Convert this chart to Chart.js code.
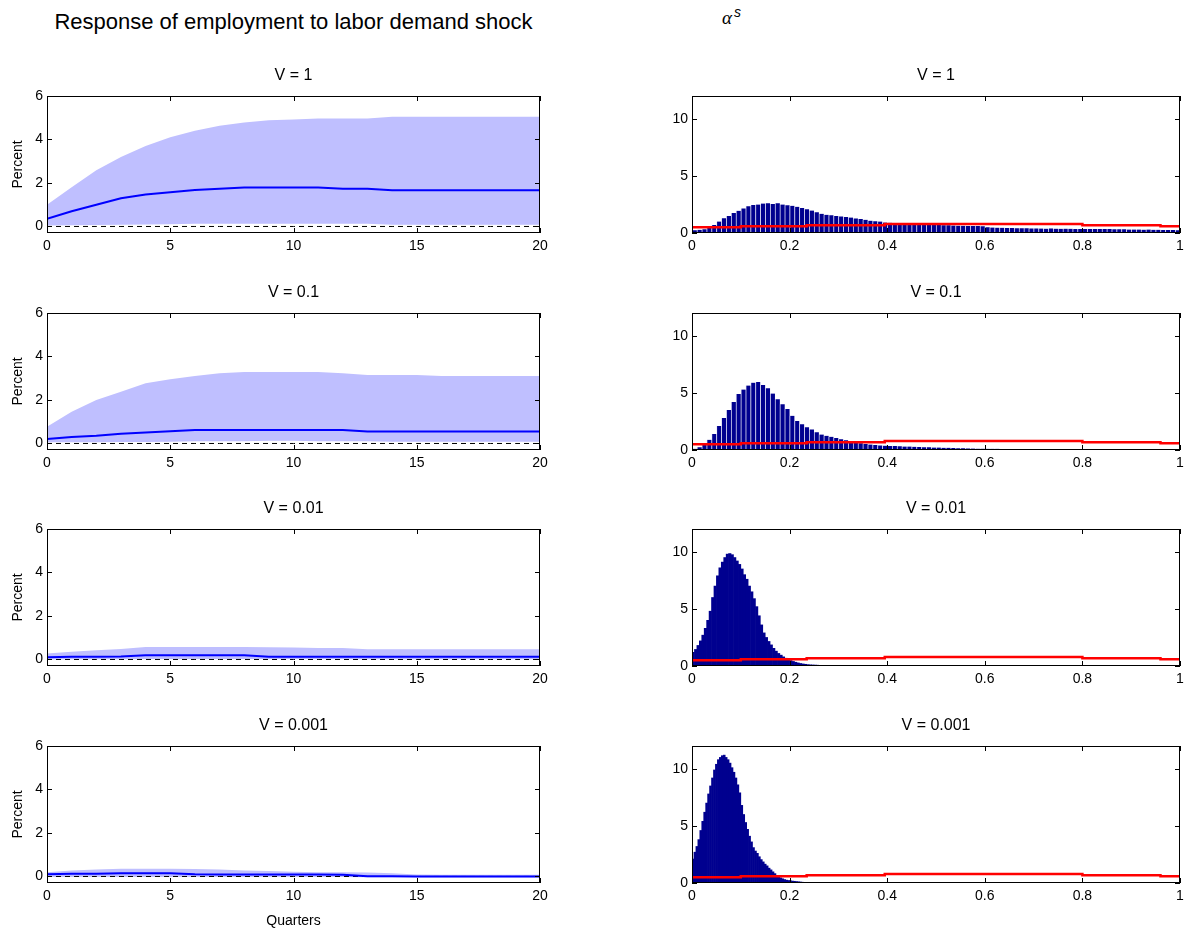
<!DOCTYPE html>
<html>
<head>
<meta charset="utf-8">
<script src="https://cdn.jsdelivr.net/npm/chart.js@4.4.1/dist/chart.umd.min.js"></script>
<style>
  body { margin: 0; background: #fff; }
  #page { position: relative; width: 1192px; height: 933px; font-family: "Liberation Sans", Arial, sans-serif; color: #000; }
  .panel { position: absolute; }
  .heading { position: absolute; white-space: nowrap; }
  #leftHeading { left: 47px; width: 493px; top: 9px; text-align: center; font-size: 22px; }
  #rightHeading { left: 722px; top: 4px; font-size: 18px; }
  #rightHeading i { font-family: "Liberation Serif", serif; font-size: 19px; }
  #rightHeading sup { font-style: italic; font-size: 14px; margin-left: 2px; }
</style>
</head>
<body>
<div id="page">
  <div class="heading" id="leftHeading">Response of employment to labor demand shock</div>
  <div class="heading" id="rightHeading"><i>α</i><sup>s</sup></div>
</div>
<script>
// ---- data ----
const quarters = [0, 1, 2, 3, 4, 5, 6, 7, 8, 9, 10, 11, 12, 13, 14, 15, 16, 17, 18, 19, 20];
const panelTitles = ['V = 1', 'V = 0.1', 'V = 0.01', 'V = 0.001'];

// response of employment: median and band, one set per V
const medV1 = [0.35, 0.7, 1.0, 1.3, 1.47, 1.57, 1.68, 1.74, 1.79, 1.79, 1.79, 1.79, 1.73, 1.73, 1.67, 1.67, 1.67, 1.67, 1.67, 1.67, 1.67];
const upV1  = [1.0, 1.8, 2.58, 3.2, 3.7, 4.1, 4.4, 4.63, 4.78, 4.88, 4.92, 4.97, 4.97, 4.97, 5.05, 5.05, 5.05, 5.05, 5.05, 5.05, 5.05];
const loV1  = [0.05, 0.06, 0.07, 0.08, 0.09, 0.1, 0.13, 0.13, 0.13, 0.13, 0.13, 0.13, 0.13, 0.12, 0.08, 0.08, 0.08, 0.08, 0.08, 0.08, 0.08];

const medV01 = [0.2, 0.3, 0.36, 0.45, 0.5, 0.56, 0.62, 0.62, 0.62, 0.62, 0.62, 0.62, 0.62, 0.55, 0.55, 0.55, 0.55, 0.55, 0.55, 0.55, 0.55];
const upV01  = [0.77, 1.46, 2.0, 2.38, 2.77, 2.95, 3.1, 3.23, 3.29, 3.29, 3.29, 3.29, 3.23, 3.15, 3.15, 3.15, 3.1, 3.1, 3.1, 3.1, 3.1];
const loV01  = [0.06, 0.06, 0.06, 0.07, 0.07, 0.08, 0.1, 0.1, 0.1, 0.12, 0.12, 0.1, 0.1, 0.1, 0.08, 0.08, 0.08, 0.08, 0.08, 0.08, 0.08];

const medV001 = [0.1, 0.12, 0.13, 0.14, 0.2, 0.2, 0.2, 0.2, 0.2, 0.13, 0.13, 0.13, 0.13, 0.13, 0.13, 0.13, 0.13, 0.13, 0.13, 0.13, 0.13];
const upV001  = [0.27, 0.35, 0.42, 0.48, 0.57, 0.57, 0.57, 0.57, 0.57, 0.56, 0.55, 0.53, 0.53, 0.47, 0.47, 0.47, 0.47, 0.47, 0.47, 0.47, 0.47];
const loV001  = [0.0, 0.01, 0.01, 0.01, 0.02, 0.02, 0.02, 0.02, 0.02, 0.02, 0.02, 0.02, 0.02, 0.01, 0.01, 0.01, 0.01, 0.01, 0.01, 0.01, 0.01];

const medV0001 = [0.1, 0.12, 0.13, 0.15, 0.15, 0.15, 0.1, 0.09, 0.09, 0.09, 0.09, 0.09, 0.08, 0.01, 0.01, 0.0, 0.0, 0.0, 0.0, 0.0, 0.0];
const upV0001  = [0.2, 0.28, 0.32, 0.35, 0.35, 0.35, 0.34, 0.32, 0.28, 0.25, 0.22, 0.2, 0.2, 0.18, 0.15, 0.09, 0.08, 0.08, 0.08, 0.08, 0.08];
const loV0001  = [-0.02, -0.02, -0.02, -0.02, -0.02, -0.02, -0.02, -0.02, -0.02, -0.02, -0.02, -0.02, -0.02, -0.03, -0.03, -0.03, -0.03, -0.03, -0.03, -0.03, -0.03];

// posterior of alpha^s: histogram densities, bins start at 0
const binWidthV1 = 0.01;
const densV1 = [
  0.25, 0.28, 0.32, 0.45, 0.7, 1.0, 1.3, 1.5, 1.75, 1.95,
  2.15, 2.35, 2.45, 2.5, 2.58, 2.6, 2.55, 2.6, 2.5, 2.42,
  2.38, 2.3, 2.18, 2.08, 1.96, 1.82, 1.68, 1.6, 1.55, 1.5,
  1.45, 1.4, 1.35, 1.28, 1.22, 1.15, 1.08, 1.04, 1.0, 0.92,
  0.9, 0.88, 0.86, 0.84, 0.82, 0.8, 0.78, 0.76, 0.74, 0.73,
  0.7, 0.68, 0.67, 0.66, 0.64, 0.63, 0.62, 0.62, 0.61, 0.6,
  0.5, 0.48, 0.47, 0.46, 0.44, 0.43, 0.42, 0.42, 0.41, 0.4,
  0.4, 0.39, 0.38, 0.4, 0.38, 0.37, 0.38, 0.37, 0.36, 0.36,
  0.36, 0.35, 0.35, 0.34, 0.35, 0.34, 0.33, 0.32, 0.32, 0.31,
  0.3, 0.3, 0.29, 0.3, 0.28, 0.28, 0.27, 0.27, 0.26, 0.25
];
const binWidthV01 = 0.01;
const densV01 = [
  0.1, 0.25, 0.5, 0.9, 1.4, 2.1, 2.8, 3.5, 4.2, 4.9,
  5.3, 5.65, 5.9, 5.95, 5.7, 5.4, 4.95, 4.45, 4.0, 3.6,
  3.0, 2.55, 2.25, 2.0, 1.8, 1.55, 1.35, 1.25, 1.15, 1.05,
  0.95, 0.85, 0.75, 0.68, 0.6, 0.53, 0.48, 0.43, 0.4, 0.38,
  0.36, 0.35, 0.33, 0.31, 0.3, 0.28, 0.27, 0.25, 0.24, 0.22,
  0.21, 0.2, 0.19, 0.18, 0.16, 0.15, 0.14, 0.13, 0.12, 0.12,
  0.11, 0.1, 0.1, 0.09, 0.09, 0.08, 0.08, 0.08, 0.07, 0.07,
  0.07, 0.06, 0.06, 0.06, 0.06, 0.05, 0.05, 0.05, 0.05, 0.05,
  0.04, 0.04, 0.04, 0.04, 0.04, 0.04, 0.03, 0.03, 0.03, 0.03,
  0.03, 0.03, 0.03, 0.03, 0.02, 0.02, 0.02, 0.02, 0.02, 0.02
];
const binWidthV001 = 0.005;
const densV001 = [
  1.2, 1.45, 1.8, 2.2, 2.7, 3.3, 4.0, 4.8, 6.0, 7.0,
  7.9, 8.6, 9.1, 9.5, 9.8, 9.85, 9.75, 9.5, 9.2, 8.9,
  8.5, 8.0, 7.6, 7.0, 6.5, 5.9, 5.2, 4.4, 3.6, 2.9,
  2.5, 2.15, 1.85, 1.55, 1.3, 1.1, 0.95, 0.8, 0.68, 0.58,
  0.48, 0.4, 0.33, 0.27, 0.22, 0.18, 0.15, 0.12, 0.1, 0.09,
  0.08, 0.07, 0.06, 0.06, 0.05, 0.05, 0.04, 0.04, 0.04, 0.03,
  0.03, 0.03, 0.03, 0.02, 0.02, 0.02, 0.02, 0.02, 0.02, 0.02,
  0.02, 0.01, 0.01, 0.01, 0.01, 0.01, 0.01, 0.01, 0.01, 0.01
];
const binWidthV0001 = 0.004;
const densV0001 = [
  2.1, 2.7, 3.2, 3.8, 4.6, 5.4, 6.2, 7.0, 7.8, 8.5,
  9.2, 9.9, 10.4, 10.8, 11.0, 11.15, 11.2, 11.0, 10.8, 10.5,
  10.1, 9.7, 9.2, 8.6, 7.9, 6.8, 6.0, 5.3, 4.7, 4.1,
  3.6, 3.1, 2.8, 2.6, 2.3, 2.05, 1.85, 1.65, 1.5, 1.3,
  1.15, 0.98, 0.82, 0.66, 0.54, 0.45, 0.37, 0.3, 0.25, 0.22,
  0.19, 0.17, 0.15, 0.13, 0.11, 0.09, 0.07, 0.05
];

// prior density (red step line), same in every panel; each value holds until the next x
const priorX = [0, 0.1, 0.235, 0.395, 0.8, 0.96, 1];
const priorY = [0.5, 0.59, 0.67, 0.79, 0.67, 0.59, 0.59];

// axis ticks
const irfXTicks = [0, 5, 10, 15, 20];
const irfYTicks = [0, 2, 4, 6];
const histXTicks = [0, 0.2, 0.4, 0.6, 0.8, 1];
const histYTicks = [0, 5, 10];

// ---- layout ----
Chart.defaults.font.family = '"Liberation Sans", Arial, sans-serif';
Chart.defaults.font.size = 14;
Chart.defaults.color = '#000';

const rowTops = [96, 313, 529, 746];
const boxH = 137;
const titleH = 32;
const leftBox = { x: 47, w: 493, yW: 47 };
const rightBox = { x: 692, w: 488, yW: 45 };
const padR = 14;

// box with inward ticks on all four sides, like the original figure
const frame = {
  id: 'frame',
  afterDatasetsDraw(chart) {
    const { ctx, chartArea: a, scales: { x, y } } = chart;
    const len = 5;
    ctx.save();
    ctx.strokeStyle = '#000';
    ctx.lineWidth = 1;
    ctx.strokeRect(a.left + 0.5, a.top + 0.5, a.width - 1, a.height - 1);
    ctx.beginPath();
    x.ticks.forEach(t => {
      const px = Math.round(x.getPixelForValue(t.value)) + 0.5;
      ctx.moveTo(px, a.bottom); ctx.lineTo(px, a.bottom - len);
      ctx.moveTo(px, a.top); ctx.lineTo(px, a.top + len);
    });
    y.ticks.forEach(t => {
      const py = Math.round(y.getPixelForValue(t.value)) + 0.5;
      ctx.moveTo(a.left, py); ctx.lineTo(a.left + len, py);
      ctx.moveTo(a.right, py); ctx.lineTo(a.right - len, py);
    });
    ctx.stroke();
    ctx.restore();
  }
};

function makeCanvas(left, top, width, height) {
  const c = document.createElement('canvas');
  c.className = 'panel';
  c.width = width; c.height = height;
  c.style.left = left + 'px'; c.style.top = top + 'px';
  c.style.width = width + 'px'; c.style.height = height + 'px';
  document.getElementById('page').appendChild(c);
  return c;
}

function axis(min, max, tickVals, fitSize, isY, title) {
  return {
    type: 'linear',
    min: min, max: max,
    offset: false,
    grid: { display: false, drawTicks: false, offset: false },
    border: { display: false },
    ticks: { padding: isY ? 4 : 5, callback: v => `${v}`, maxRotation: 0, autoSkip: false },
    title: title ? { display: true, text: title, font: { size: 14 }, padding: isY ? { top: 10 } : { bottom: 1.6 } } : { display: false },
    afterBuildTicks: s => { s.ticks = tickVals.map(v => ({ value: v })); },
    afterFit: s => { if (isY) s.width = fitSize; else s.height = fitSize; }
  };
}

function titleOpts(text) {
  return {
    display: true, text: text, fullSize: false, color: '#000',
    font: { size: 16, weight: 'normal' },
    padding: { top: 2.4, bottom: 10.4 }
  };
}

// ---- left column: employment responses ----
const irfSets = [
  { lo: loV1, up: upV1, med: medV1 },
  { lo: loV01, up: upV01, med: medV01 },
  { lo: loV001, up: upV001, med: medV001 },
  { lo: loV0001, up: upV0001, med: medV0001 }
];

irfSets.forEach((s, i) => {
  const xH = i === 3 ? 48 : 28;
  const cv = makeCanvas(leftBox.x - leftBox.yW, rowTops[i] - titleH, leftBox.yW + leftBox.w + padR, titleH + boxH + xH);
  const pts = arr => quarters.map((q, k) => ({ x: q, y: arr[k] }));
  new Chart(cv.getContext('2d'), {
    type: 'line',
    data: {
      datasets: [
        { data: pts(s.lo), borderWidth: 0, pointRadius: 0, fill: false, order: 3 },
        { data: pts(s.up), borderWidth: 0, pointRadius: 0, fill: '-1', backgroundColor: '#BFBFFF', order: 2 },
        { data: pts(s.med), borderColor: '#0000FF', borderWidth: 2, pointRadius: 0, fill: false, order: 0 },
        { data: quarters.map(q => ({ x: q, y: 0 })), borderColor: '#000', borderWidth: 1, borderDash: [5, 4], pointRadius: 0, fill: false, order: 1 }
      ]
    },
    options: {
      responsive: false,
      animation: false,
      events: [],
      layout: { padding: { right: padR, top: 0, bottom: 0, left: 0 } },
      plugins: { legend: { display: false }, tooltip: { enabled: false }, title: titleOpts(panelTitles[i]) },
      scales: {
        x: axis(0, 20, irfXTicks, xH, false, i === 3 ? 'Quarters' : null),
        y: axis(-0.3, 6, irfYTicks, leftBox.yW, true, 'Percent')
      }
    },
    plugins: [frame]
  });
});

// ---- right column: histograms of alpha^s ----
const histSets = [
  { dens: densV1, bw: binWidthV1, seams: true },
  { dens: densV01, bw: binWidthV01, seams: true },
  { dens: densV001, bw: binWidthV001, seams: false },
  { dens: densV0001, bw: binWidthV0001, seams: false }
];

histSets.forEach((s, i) => {
  const xH = 28;
  const cv = makeCanvas(rightBox.x - rightBox.yW, rowTops[i] - titleH, rightBox.yW + rightBox.w + 12, titleH + boxH + xH);
  new Chart(cv.getContext('2d'), {
    type: 'bar',
    data: {
      datasets: [
        {
          type: 'bar',
          data: s.dens.map((d, k) => ({ x: (k + 0.5) * s.bw, y: d })),
          backgroundColor: 'rgb(0,0,143)',
          borderColor: 'rgba(200,200,240,0.3)',
          borderWidth: s.seams ? { left: 1, right: 0, top: 0, bottom: 0 } : 0,
          borderSkipped: false,
          barPercentage: 1,
          categoryPercentage: 1,
          order: 1
        },
        {
          type: 'line',
          data: priorX.map((x, k) => ({ x: x, y: priorY[k] })),
          stepped: 'before',
          borderColor: '#FF0000',
          borderWidth: 2.5,
          pointRadius: 0,
          fill: false,
          order: 0
        }
      ]
    },
    options: {
      responsive: false,
      animation: false,
      events: [],
      layout: { padding: { right: 12, top: 0, bottom: 0, left: 0 } },
      plugins: { legend: { display: false }, tooltip: { enabled: false }, title: titleOpts(panelTitles[i]) },
      scales: {
        x: axis(0, 1, histXTicks, xH, false, null),
        y: axis(0, 12, histYTicks, rightBox.yW, true, null)
      }
    },
    plugins: [frame]
  });
});
</script>
</body>
</html>
